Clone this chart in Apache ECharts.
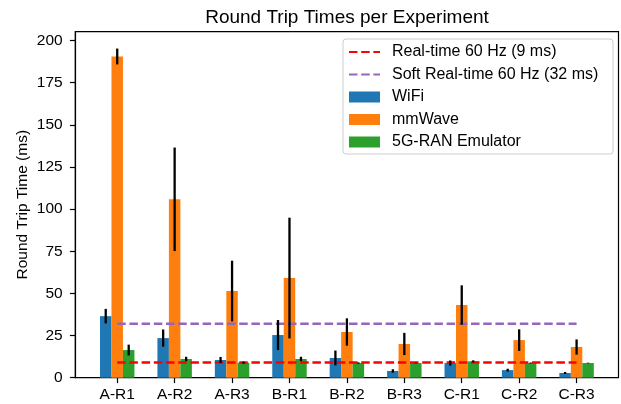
<!DOCTYPE html>
<html>
<head>
<meta charset="utf-8">
<script src="https://cdn.jsdelivr.net/npm/echarts@6/dist/echarts.min.js"></script>
<style>
html,body{margin:0;padding:0;background:#fff;}
#chart{width:621px;height:404px;}
</style>
</head>
<body>
<div id="chart"></div>
<script>
const categories = ['A-R1','A-R2','A-R3','B-R1','B-R2','B-R3','C-R1','C-R2','C-R3'];
const wifiMean = [36.5, 23.5, 10.5, 25.3, 11.7, 4.0, 8.7, 4.5, 2.8];
const wifiErr  = [4.3, 5.1, 1.8, 8.9, 4.4, 1.0, 1.5, 0.8, 0.6];
const mmwaveMean = [190.5, 105.8, 51.4, 59.1, 27.1, 20.0, 43.1, 22.3, 18.2];
const mmwaveErr  = [4.7, 30.7, 18.0, 35.8, 8.1, 6.6, 11.7, 6.4, 4.5];
const ranMean = [16.4, 11.1, 8.9, 11.1, 8.7, 8.7, 9.7, 8.7, 8.7];
const ranErr  = [3.2, 1.3, 0.6, 1.3, 0.4, 0.2, 0.6, 0.3, 0.2];
const realtimeMs = 9;
const softRealtimeMs = 32;
const yTicks = [0, 25, 50, 75, 100, 125, 150, 175, 200];

const FONT = 'Liberation Sans, Arial, sans-serif';
const GRID = {left: 75.3, right: 2.5, top: 31.7, bottom: 26.3};
const X_MIN = -0.73, X_MAX = 8.73, BAR_UNITS = 0.2;
const plotW = 621 - GRID.left - GRID.right;
const barPx = plotW / (X_MAX - X_MIN) * BAR_UNITS;
const idx = categories.map((_, i) => i);
const noSymbol = {color: 'rgba(0,0,0,0)', borderColor: 'rgba(0,0,0,0)', borderWidth: 0};

function barData(means) { return means.map((v, i) => [i, v]); }
function errData(means, errs, off) {
  return means.map((v, i) => [i + off, v - errs[i], v + errs[i]]);
}
function errSeries(name, means, errs, off) {
  return {
    name: name, type: 'custom', z: 5, silent: true,
    data: errData(means, errs, off),
    renderItem: function (params, api) {
      const p1 = api.coord([api.value(0), api.value(1)]);
      const p2 = api.coord([api.value(0), api.value(2)]);
      return {type: 'line', shape: {x1: p1[0], y1: p1[1], x2: p2[0], y2: p2[1]},
        style: {stroke: '#000', lineWidth: 2.3}};
    }
  };
}

const chart = echarts.init(document.getElementById('chart'), null, {renderer: 'canvas'});
chart.setOption({
  animation: false,
  backgroundColor: '#fff',
  title: {
    text: 'Round Trip Times per Experiment',
    left: 347, top: 8, padding: 0, textAlign: 'center',
    textStyle: {fontFamily: FONT, fontSize: 19, fontWeight: 'normal', color: '#000'}
  },
  legend: {
    orient: 'vertical', left: 343, top: 39,
    padding: [5, 7, 4, 5],
    itemWidth: 31, itemHeight: 11, itemGap: 6.5,
    borderColor: '#cccccc', borderWidth: 1, borderRadius: 3,
    backgroundColor: 'rgba(255,255,255,0.8)',
    textStyle: {fontFamily: FONT, fontSize: 16, lineHeight: 15, color: '#000', width: 214, padding: [0, 0, 0, 7]},
    data: [
      {name: 'Real-time 60 Hz (9 ms)', itemStyle: noSymbol},
      {name: 'Soft Real-time 60 Hz (32 ms)', itemStyle: noSymbol},
      {name: 'WiFi', icon: 'rect'},
      {name: 'mmWave', icon: 'rect'},
      {name: '5G-RAN Emulator', icon: 'rect'}
    ],
    z: 10
  },
  grid: {left: GRID.left, right: GRID.right, top: GRID.top, bottom: GRID.bottom,
    show: true, borderColor: '#000', borderWidth: 1.2, backgroundColor: 'transparent'},
  xAxis: {
    type: 'value', min: X_MIN, max: X_MAX,
    axisLine: {show: true, onZero: false, lineStyle: {color: '#000', width: 1.2}},
    axisTick: {show: true, length: 5.4, customValues: idx, lineStyle: {color: '#000', width: 1.2}},
    axisLabel: {customValues: idx, margin: 9, fontFamily: FONT, fontSize: 15.5, color: '#000',
      formatter: v => categories[Math.round(v)]},
    splitLine: {show: false}
  },
  yAxis: {
    type: 'value', min: 0, max: 205.2,
    name: 'Round Trip Time (ms)', nameLocation: 'middle', nameGap: 45, nameRotate: 90,
    nameMoveOverlap: false,
    nameTextStyle: {fontFamily: FONT, fontSize: 15.5, color: '#000'},
    axisLine: {show: true, onZero: false, lineStyle: {color: '#000', width: 1.2}},
    axisTick: {show: true, length: 5.4, customValues: yTicks, lineStyle: {color: '#000', width: 1.2}},
    axisLabel: {customValues: yTicks, margin: 12.6, fontFamily: FONT, fontSize: 15.5, color: '#000'},
    splitLine: {show: false}
  },
  series: [
    {name: 'WiFi', type: 'bar', data: barData(wifiMean), barWidth: barPx, barGap: '0%',
      itemStyle: {color: '#1f77b4'}, z: 2},
    {name: 'mmWave', type: 'bar', data: barData(mmwaveMean), barWidth: barPx, barGap: '0%',
      itemStyle: {color: '#ff7f0e'}, z: 2},
    {name: '5G-RAN Emulator', type: 'bar', data: barData(ranMean), barWidth: barPx, barGap: '0%',
      itemStyle: {color: '#2ca02c'}, z: 2},
    {name: 'Real-time 60 Hz (9 ms)', type: 'line', symbol: 'none', z: 4,
      data: [[0, realtimeMs], [categories.length - 1, realtimeMs]],
      lineStyle: {color: '#ff0000', width: 2.3, type: [8.5, 3.7]}, itemStyle: {color: '#ff0000'}},
    {name: 'Soft Real-time 60 Hz (32 ms)', type: 'line', symbol: 'none', z: 4,
      data: [[0, softRealtimeMs], [categories.length - 1, softRealtimeMs]],
      lineStyle: {color: '#9467bd', width: 2.3, type: [8.5, 3.7]}, itemStyle: {color: '#9467bd'}},
    errSeries('wifiErr', wifiMean, wifiErr, -BAR_UNITS),
    errSeries('mmwaveErr', mmwaveMean, mmwaveErr, 0),
    errSeries('ranErr', ranMean, ranErr, BAR_UNITS)
  ]
});
</script>
</body>
</html>
